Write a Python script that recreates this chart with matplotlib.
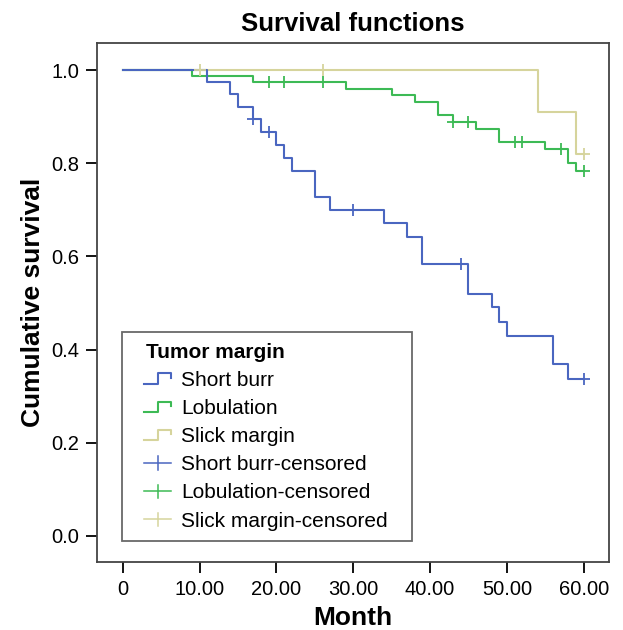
import matplotlib
matplotlib.use("Agg")
import matplotlib.pyplot as plt
from matplotlib.lines import Line2D
from matplotlib.legend_handler import HandlerBase

plt.rcParams["font.family"] = ["Liberation Sans", "DejaVu Sans"]

# event times (month) and survival after each drop
short_t = [0, 11, 14, 15, 17, 18, 20, 21, 22, 25, 27, 34, 37, 39, 45, 48, 49, 50, 56, 58, 60]
short_s = [1.0, 0.975, 0.949, 0.921, 0.894, 0.868, 0.840, 0.812, 0.784, 0.728, 0.700,
           0.671, 0.641, 0.583, 0.520, 0.491, 0.460, 0.430, 0.368, 0.337, 0.337]
short_cens_t = [17, 19, 30, 44, 60]

lob_t = [0, 9, 17, 29, 35, 38, 41, 43, 46, 49, 55, 58, 59, 60]
lob_s = [1.0, 0.987, 0.974, 0.960, 0.946, 0.931, 0.903, 0.888, 0.874, 0.845, 0.831,
         0.800, 0.784, 0.784]
lob_cens_t = [19, 21, 26, 43, 45, 51, 52, 57, 60]

slick_t = [0, 54, 59, 60]
slick_s = [1.0, 0.909, 0.819, 0.819]
slick_cens_t = [10, 26, 60]

names = ["Short burr", "Lobulation", "Slick margin"]
colors = ["#4a66c0", "#3dba55", "#d6d49c"]
x_ticks = [0, 10, 20, 30, 40, 50, 60]
x_labels = ["0", "10.00", "20.00", "30.00", "40.00", "50.00", "60.00"]
y_ticks = [0.0, 0.2, 0.4, 0.6, 0.8, 1.0]

HANDLE_OFFSET = 8.6  # points of blank space left of each legend handle


def surv_at(t, times, surv):
    val = surv[0]
    for tt, ss in zip(times, surv):
        if tt <= t:
            val = ss
    return val


class StepHandler(HandlerBase):
    def create_artists(self, legend, orig_handle, xdescent, ydescent,
                       width, height, fontsize, trans):
        x0, x1 = -xdescent + HANDLE_OFFSET, -xdescent + width
        xm = x0 + (x1 - x0) * 0.5
        ylo = -ydescent + height * 0.15
        yhi = -ydescent + height * 0.85
        ymid = -ydescent + height * 0.55
        line = Line2D([x0, xm, xm, x1, x1], [ylo, ylo, yhi, yhi, ymid],
                      color=orig_handle.get_color(), lw=orig_handle.get_linewidth(),
                      transform=trans)
        return [line]


class CrossHandler(HandlerBase):
    def create_artists(self, legend, orig_handle, xdescent, ydescent,
                       width, height, fontsize, trans):
        x0, x1 = -xdescent + HANDLE_OFFSET, -xdescent + width
        xm = x0 + (x1 - x0) * 0.5
        yc = -ydescent + height * 0.5
        h = Line2D([x0, x1], [yc, yc], color=orig_handle.get_color(),
                   lw=orig_handle.get_linewidth(), transform=trans)
        v = Line2D([xm, xm], [yc - height * 0.45, yc + height * 0.45],
                   color=orig_handle.get_color(), lw=orig_handle.get_linewidth(),
                   transform=trans)
        return [h, v]


fig = plt.figure(figsize=(6.23, 6.30), dpi=100)
ax = fig.add_axes([0.1557, 0.1079, 0.822, 0.8238])

groups = [
    (short_t, short_s, short_cens_t),
    (lob_t, lob_s, lob_cens_t),
    (slick_t, slick_s, slick_cens_t),
]

step_handles = []
cens_handles = []
for i in [2, 1, 0]:
    t, s, ct = groups[i]
    ax.step(t, s, where="post", color=colors[i], lw=1.5, zorder=3 + (2 - i))
for i in range(3):
    t, s, ct = groups[i]
    cy = [surv_at(c, t, s) for c in ct]
    ax.plot(ct, cy, linestyle="none", marker="+", ms=9, mew=1.3,
            color=colors[i], zorder=6)
    step_handles.append(Line2D([], [], color=colors[i], lw=1.5))
    cens_handles.append(Line2D([], [], color=colors[i], lw=1.1))

ax.set_xlim(-3.35, 63.3)
ax.set_ylim(-0.056, 1.058)
ax.set_xticks(x_ticks)
ax.set_xticklabels(x_labels)
ax.set_yticks(y_ticks)
ax.set_yticklabels([f"{v:.1f}" for v in y_ticks])
ax.tick_params(direction="out", length=8, width=1.3, labelsize=14.5, pad=5)

for sp in ax.spines.values():
    sp.set_color("#444444")
    sp.set_linewidth(1.3)

ax.set_title("Survival functions", fontsize=18.5, fontweight="bold", pad=9)
ax.set_xlabel("Month", fontsize=19, fontweight="bold", labelpad=5)
ax.set_ylabel("Cumulative survival", fontsize=19, fontweight="bold", labelpad=4)

handles = step_handles + cens_handles
labels = names + [n + "-censored" for n in names]
hmap = {h: StepHandler() for h in step_handles}
hmap.update({h: CrossHandler() for h in cens_handles})
leg = ax.legend(handles, labels, handler_map=hmap, loc="lower left",
                bbox_to_anchor=(0.049, 0.0405, 0.566, 0.3), mode="expand",
                borderaxespad=0,
                fontsize=15, title="Tumor margin",
                title_fontproperties={"weight": "bold", "size": 15},
                frameon=True, fancybox=False, edgecolor="#444444",
                handlelength=1.87, handletextpad=0.48, labelspacing=0.44,
                borderpad=0.5)
leg.get_frame().set_linewidth(1.3)
leg._legend_box.align = "left"
leg.get_title().set_position((13, 0))

fig.savefig("out.png", dpi=100)
